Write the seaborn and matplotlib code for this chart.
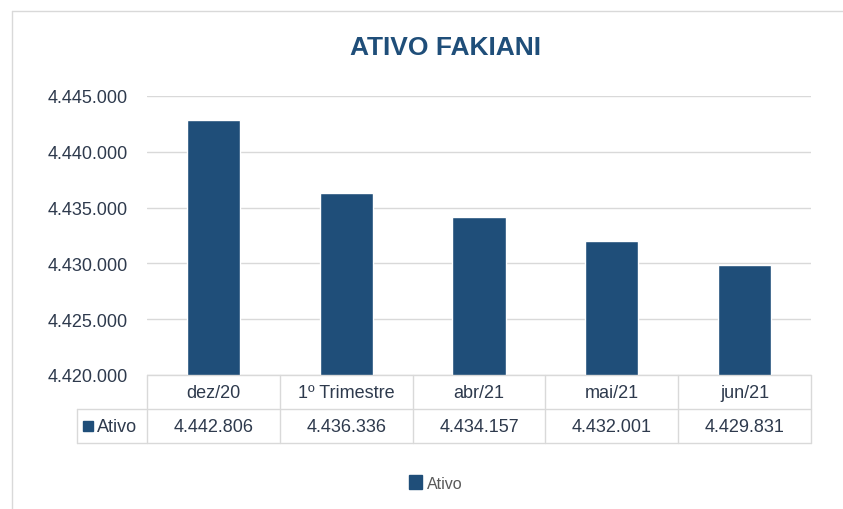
import pandas as pd
import seaborn as sns
import matplotlib.pyplot as plt
from matplotlib import patches, lines
from matplotlib.ticker import FuncFormatter, MultipleLocator
from matplotlib.transforms import blended_transform_factory

sns.set_style("white")
plt.rcParams['font.family'] = ['Liberation Sans', 'DejaVu Sans']

# Data
categories = ['dez/20', '1º Trimestre', 'abr/21', 'mai/21', 'jun/21']
ativo = [4442806, 4436336, 4434157, 4432001, 4429831]
series_name = 'Ativo'

df = pd.DataFrame({'Periodo': categories, series_name: ativo})

colors = {'bar': '#1F4E79', 'title': '#1F4E79', 'text': '#2E3A4D',
          'legend': '#595959', 'grid': '#D9D9D9'}


def fmt_br(v):
    return '{:,.0f}'.format(v).replace(',', '.')


fig = plt.figure(figsize=(8.43, 5.10), dpi=100)
ax = fig.add_axes([147 / 843, 1 - 376 / 510, (811 - 147) / 843, (376 - 97) / 510])

sns.barplot(data=df, x='Periodo', y=series_name, color=colors['bar'], width=0.4,
            saturation=1, ax=ax, label=series_name)

ax.set_ylim(4420000, 4445000)
ax.set_xlim(-0.5, len(categories) - 0.5)
ax.yaxis.set_major_locator(MultipleLocator(5000))
ax.yaxis.set_major_formatter(FuncFormatter(lambda v, p: fmt_br(v)))
ax.tick_params(axis='y', length=0, pad=14, labelsize=13, labelcolor=colors['text'])
ax.set_xticks([])
ax.set_xlabel('')
ax.set_ylabel('')
ax.set_axisbelow(True)
ax.grid(axis='y', color=colors['grid'], lw=1)
for s in ['top', 'right', 'left', 'bottom']:
    ax.spines[s].set_visible(False)
if ax.get_legend() is not None:
    ax.get_legend().remove()

# Data table below the plot
tr = blended_transform_factory(ax.transData, ax.transAxes)
row_h = 34 / 279
x_left = -0.5 - 70 / 132.8
x_right = len(categories) - 0.5
lc = colors['grid']
ax.add_line(lines.Line2D([-0.5, x_right], [0, 0], color=lc, lw=1, transform=tr, clip_on=False))
for yy in [-row_h, -2 * row_h]:
    ax.add_line(lines.Line2D([x_left, x_right], [yy, yy], color=lc, lw=1, transform=tr, clip_on=False))
for i in range(len(categories) + 1):
    xx = i - 0.5
    ax.add_line(lines.Line2D([xx, xx], [0, -2 * row_h], color=lc, lw=1, transform=tr, clip_on=False))
ax.add_line(lines.Line2D([x_left, x_left], [-row_h, -2 * row_h], color=lc, lw=1, transform=tr, clip_on=False))

for i, (cat, val) in enumerate(zip(categories, ativo)):
    ax.text(i, -row_h / 2, cat, transform=tr, ha='center', va='center',
            fontsize=13, color=colors['text'])
    ax.text(i, -1.5 * row_h, fmt_br(val), transform=tr, ha='center', va='center',
            fontsize=13, color=colors['text'])

# series key in table
kx = -0.5 - 64 / 132.8
ax.add_patch(patches.Rectangle((kx, -1.5 * row_h - 0.018), 10 / 132.8, 0.036,
                               color=colors['bar'], transform=tr, clip_on=False))
ax.text(kx + 14 / 132.8, -1.5 * row_h, series_name, transform=tr, ha='left', va='center',
        fontsize=13, color=colors['text'])

# Title
fig.text(446 / 843, 1 - 48 / 510, 'ATIVO FAKIANI', ha='center', va='center',
         fontsize=19, fontweight='bold', color=colors['title'])

# Legend
handle = patches.Patch(color=colors['bar'], label=series_name)
leg = fig.legend(handles=[handle], loc='center', bbox_to_anchor=(436 / 843, 1 - 484 / 510),
                 frameon=False, fontsize=11.5, handlelength=0.8, handleheight=0.9,
                 handletextpad=0.3)
for t in leg.get_texts():
    t.set_color(colors['legend'])

# Chart area border
fig.add_artist(lines.Line2D([12 / 843, 1], [1 - 12 / 510, 1 - 12 / 510], color=lc, lw=1))
fig.add_artist(lines.Line2D([12 / 843, 12 / 843], [0, 1 - 12 / 510], color=lc, lw=1))

fig.savefig('out.png', dpi=100)
